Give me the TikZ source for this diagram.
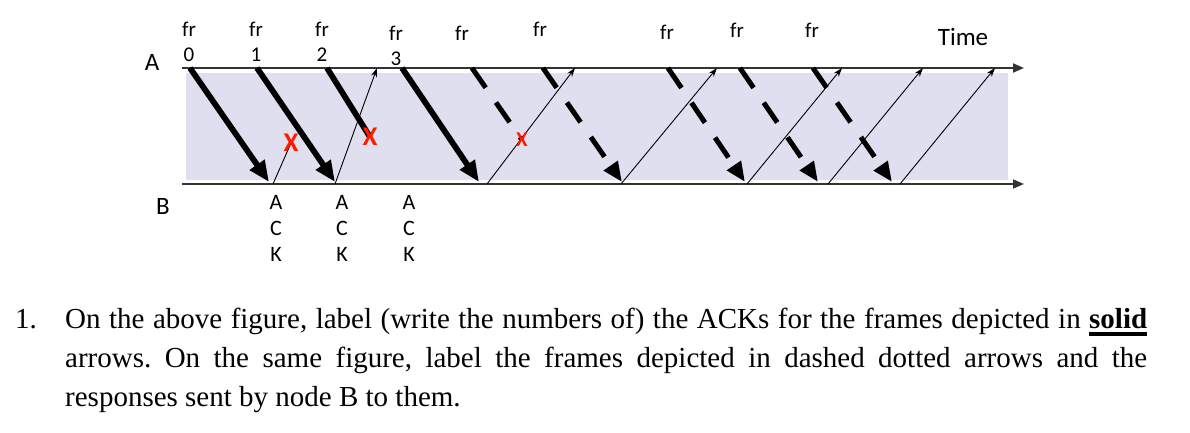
\documentclass[tikz,border=0pt]{standalone}
\usepackage{fontspec}
\setmainfont{Liberation Serif}
\newfontfamily\calibfont{Carlito}
\usetikzlibrary{arrows.meta}
\definecolor{LinkShade}{HTML}{DFDFEF}
\definecolor{LossRed}{HTML}{FF1A00}
\newcommand\boldul[1]{\vtop{\hbox{#1}\kern4pt\hrule height 4pt}}
\tolerance=9999
\hyphenpenalty=10000
\frenchspacing

\begin{document}
\begin{tikzpicture}[x=1pt, y=-1pt,
    timeline/.style={line width=1.8pt, black!80, -{Triangle[length=11pt,width=9pt]}},
    solidfr/.style={line width=5.8pt, -{Triangle[length=21pt,width=17pt]}},
    dashfr/.style={line width=5pt, dash pattern=on 24pt off 18pt, -{Triangle[length=20pt,width=16pt]}},
    ackarr/.style={line width=0.9pt, -{Stealth[length=9pt,width=6pt]}},
    lost/.style={text=LossRed, inner sep=0pt, font=\calibfont\bfseries\fontsize{27}{27}\selectfont},
    frlabel/.style={anchor=south, inner sep=0pt, align=center, font=\calibfont\fontsize{21}{25}\selectfont},
    acklabel/.style={anchor=south, inner sep=0pt, align=center, font=\calibfont\fontsize{22}{26}\selectfont},
    sidelabel/.style={anchor=base, inner sep=0pt, font=\calibfont\fontsize{25}{25}\selectfont}]
    \useasboundingbox (0,0) rectangle (1190,433);

    % ========== Link between A and B ==========
    \fill[LinkShade] (186,73) rectangle (1008,180);
    \coordinate (Aleft) at (182,68);
    \coordinate (Aright) at (1024,68);
    \coordinate (Bleft) at (182,184);
    \coordinate (Bright) at (1024,184);
    \draw[timeline] (Aleft) -- (Aright);
    \draw[timeline] (Bleft) -- (Bright);

    \node[sidelabel] (nodeA) at (152,71) {A};
    \node[sidelabel] (nodeB) at (163,214) {B};
    \node[sidelabel] (time) at (963,46) {Time};

    % ========== Frames sent by A ==========
    \coordinate (s0) at (190,68);  \coordinate (e0) at (269,182);
    \coordinate (s1) at (257,68);  \coordinate (e1) at (335,182);
    \coordinate (s2) at (327,68);
    \coordinate (s3) at (402,68);  \coordinate (e3) at (479,182);
    \coordinate (s4) at (472,68);
    \coordinate (s5) at (543,68);  \coordinate (e5) at (622,182);
    \coordinate (s6) at (668,68);  \coordinate (e6) at (745,182);
    \coordinate (s7) at (740,68);  \coordinate (e7) at (818,182);
    \coordinate (s8) at (813,68);  \coordinate (e8) at (892,182);

    % where things get lost
    \coordinate (x1) at (291,143);
    \coordinate (x2) at (370,137);
    \coordinate (x3) at (522,140);

    \draw[solidfr] (s0) -- (e0);
    \draw[solidfr] (s1) -- (e1);
    \draw[solidfr, -] (s2) -- (x2);
    \draw[solidfr] (s3) -- (e3);
    \draw[dashfr, -] (s4) -- (x3);
    \draw[dashfr] (s5) -- (e5);
    \draw[dashfr] (s6) -- (e6);
    \draw[dashfr] (s7) -- (e7);
    \draw[dashfr] (s8) -- (e8);

    % ========== ACKs sent by B ==========
    \coordinate (b0) at (273,184);
    \coordinate (b1) at (335,184);  \coordinate (t1) at (377,68);
    \coordinate (b2) at (487,184);  \coordinate (t2) at (575,68);
    \coordinate (b3) at (621,184);  \coordinate (t3) at (717,68);
    \coordinate (b4) at (747,184);  \coordinate (t4) at (842,68);
    \coordinate (b5) at (828,184);  \coordinate (t5) at (923,68);
    \coordinate (b6) at (900,184);  \coordinate (t6) at (995,68);

    \draw[line width=0.9pt] (b0) -- (x1);
    \draw[ackarr] (b1) -- (t1);
    \draw[ackarr] (b2) -- (t2);
    \draw[ackarr] (b3) -- (t3);
    \draw[ackarr] (b4) -- (t4);
    \draw[ackarr] (b5) -- (t5);
    \draw[ackarr] (b6) -- (t6);

    % losses
    \node[lost] (lost1) at (x1) {X};
    \node[lost] (lost2) at (x2) {X};
    \node[lost, font=\calibfont\bfseries\fontsize{21}{21}\selectfont] (lost3) at (x3) {X};

    % ========== Labels ==========
    \node[frlabel] (fr0) at (189,62) {fr\\0};
    \node[frlabel] (fr1) at (256,62) {fr\\1};
    \node[frlabel] (fr2) at (322,62) {fr\\2};
    \node[frlabel] (fr3) at (396,66) {fr\\3};
    \node[frlabel] (fr4) at (462,41) {fr};
    \node[frlabel] (fr5) at (540,37) {fr};
    \node[frlabel] (fr6) at (667,40) {fr};
    \node[frlabel] (fr7) at (737,38) {fr};
    \node[frlabel] (fr8) at (812,38) {fr};

    \node[acklabel] (ack0) at (276,262) {A\\C\\K};
    \node[acklabel] (ack1) at (342,262) {A\\C\\K};
    \node[acklabel] (ack2) at (409,262) {A\\C\\K};

    % ========== Question ==========
    \node[anchor=base west, inner sep=0pt, font=\fontsize{29}{39}\selectfont] (qnum) at (15,328) {1.};
    \node[anchor=north west, inner sep=0pt, text width=1082pt, align=justify,
          font=\fontsize{29}{39}\selectfont] (qtext) at (65,300.7)
        {\strut On the above figure, label (write the numbers of) the ACKs for the frames depicted in \boldul{\textbf{solid}}\linebreak{} arrows. On the same figure, label the frames depicted in dashed dotted arrows and the\linebreak{} responses sent by node B to them.};

\end{tikzpicture}
\end{document}
